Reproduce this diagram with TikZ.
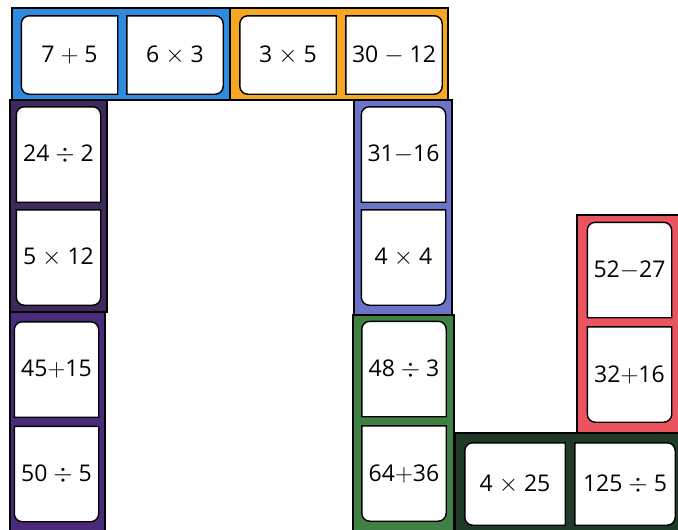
\documentclass[tikz,border=0pt]{standalone}
\usepackage{fontspec}
\setmainfont{Open Sans}
\usepackage{xcolor}
\usepackage{tikz}
\usetikzlibrary{backgrounds}

\definecolor{domblue}{HTML}{2E8BE0}
\definecolor{domorange}{HTML}{F5A623}
\definecolor{domplum}{HTML}{3C2A5C}
\definecolor{dompurple}{HTML}{4A2A7A}
\definecolor{domslate}{HTML}{6B74C9}
\definecolor{domgreen}{HTML}{3F8044}
\definecolor{domred}{HTML}{E9545E}
\definecolor{domforest}{HTML}{1F3B27}

\begin{document}
\begin{tikzpicture}[
  x=1pt, y=-1pt,
  domino/.style={draw, line width=1.4pt},
  card/.style={inner sep=0pt, font=\fontsize{23}{27}\selectfont},
  hcard/.style={card, minimum width=96pt, minimum height=78pt},
  vcard/.style={card, minimum width=84pt, minimum height=95pt},
  cardline/.style={draw, line width=1.4pt, fill=white}
]
\useasboundingbox (0,0) rectangle (678,530);

% Top row
\node[hcard] (blueA) at (69.5,55) {7 $+$ 5};
\node[hcard] (blueB) at (175,55) {6 $\times$ 3};
\node[hcard] (orangeA) at (288,55) {3 $\times$ 5};
\node[hcard] (orangeB) at (394,55) {30 $-$ 12};

% Left column
\node[vcard] (plumA) at (58.5,154.5) {24 $\div$ 2};
\node[vcard] (plumB) at (58.5,257.5) {5 $\times$ 12};
\node[vcard] (purpleA) at (56.5,369.5) {45$+$15};
\node[vcard] (purpleB) at (56.5,474) {50 $\div$ 5};

% Right column
\node[vcard] (slateA) at (403.5,154.5) {31$-$16};
\node[vcard] (slateB) at (403.5,257.5) {4 $\times$ 4};
\node[vcard] (greenA) at (404,369) {48 $\div$ 3};
\node[vcard] (greenB) at (404,473.5) {64$+$36};

% Far right
\node[vcard] (redA) at (629.5,270) {52$-$27};
\node[vcard] (redB) at (629.5,374.5) {32$+$16};
\node[hcard, minimum width=100pt, minimum height=82pt] (forestA) at (515,484) {4 $\times$ 25};
\node[hcard, minimum width=100pt, minimum height=82pt] (forestB) at (625,484) {125 $\div$ 5};

\begin{scope}[on background layer]
  % Dominoes
  \draw[domino, fill=domblue] (12,8) rectangle (230,100);
  \draw[domino, fill=domorange] (230,8) rectangle (448,100);
  \draw[domino, fill=domplum] (10,100) rectangle (107,312);
  \draw[domino, fill=dompurple] (10,312) rectangle (105,532);
  \draw[domino, fill=domslate] (354,100) rectangle (452,315);
  \draw[domino, fill=domgreen] (353,315) rectangle (454,532);
  \draw[domino, fill=domred] (577,215) rectangle (680,433);
  \draw[domino, fill=domforest] (455,433) rectangle (680,532);

  % Card faces, outer corners rounded
  \foreach \c in {blueA,orangeA,forestA}
    \draw[cardline] (\c.north east) [rounded corners=8pt] -- (\c.north west)
      -- (\c.south west) [sharp corners] -- (\c.south east) -- cycle;
  \foreach \c in {blueB,orangeB,forestB}
    \draw[cardline] (\c.south west) [rounded corners=8pt] -- (\c.south east)
      -- (\c.north east) [sharp corners] -- (\c.north west) -- cycle;
  \foreach \c in {plumA,purpleA,slateA,greenA,redA}
    \draw[cardline] (\c.south west) [rounded corners=8pt] -- (\c.north west)
      -- (\c.north east) [sharp corners] -- (\c.south east) -- cycle;
  \foreach \c in {plumB,purpleB,slateB,greenB,redB}
    \draw[cardline] (\c.north east) [rounded corners=8pt] -- (\c.south east)
      -- (\c.south west) [sharp corners] -- (\c.north west) -- cycle;
\end{scope}

\end{tikzpicture}
\end{document}
